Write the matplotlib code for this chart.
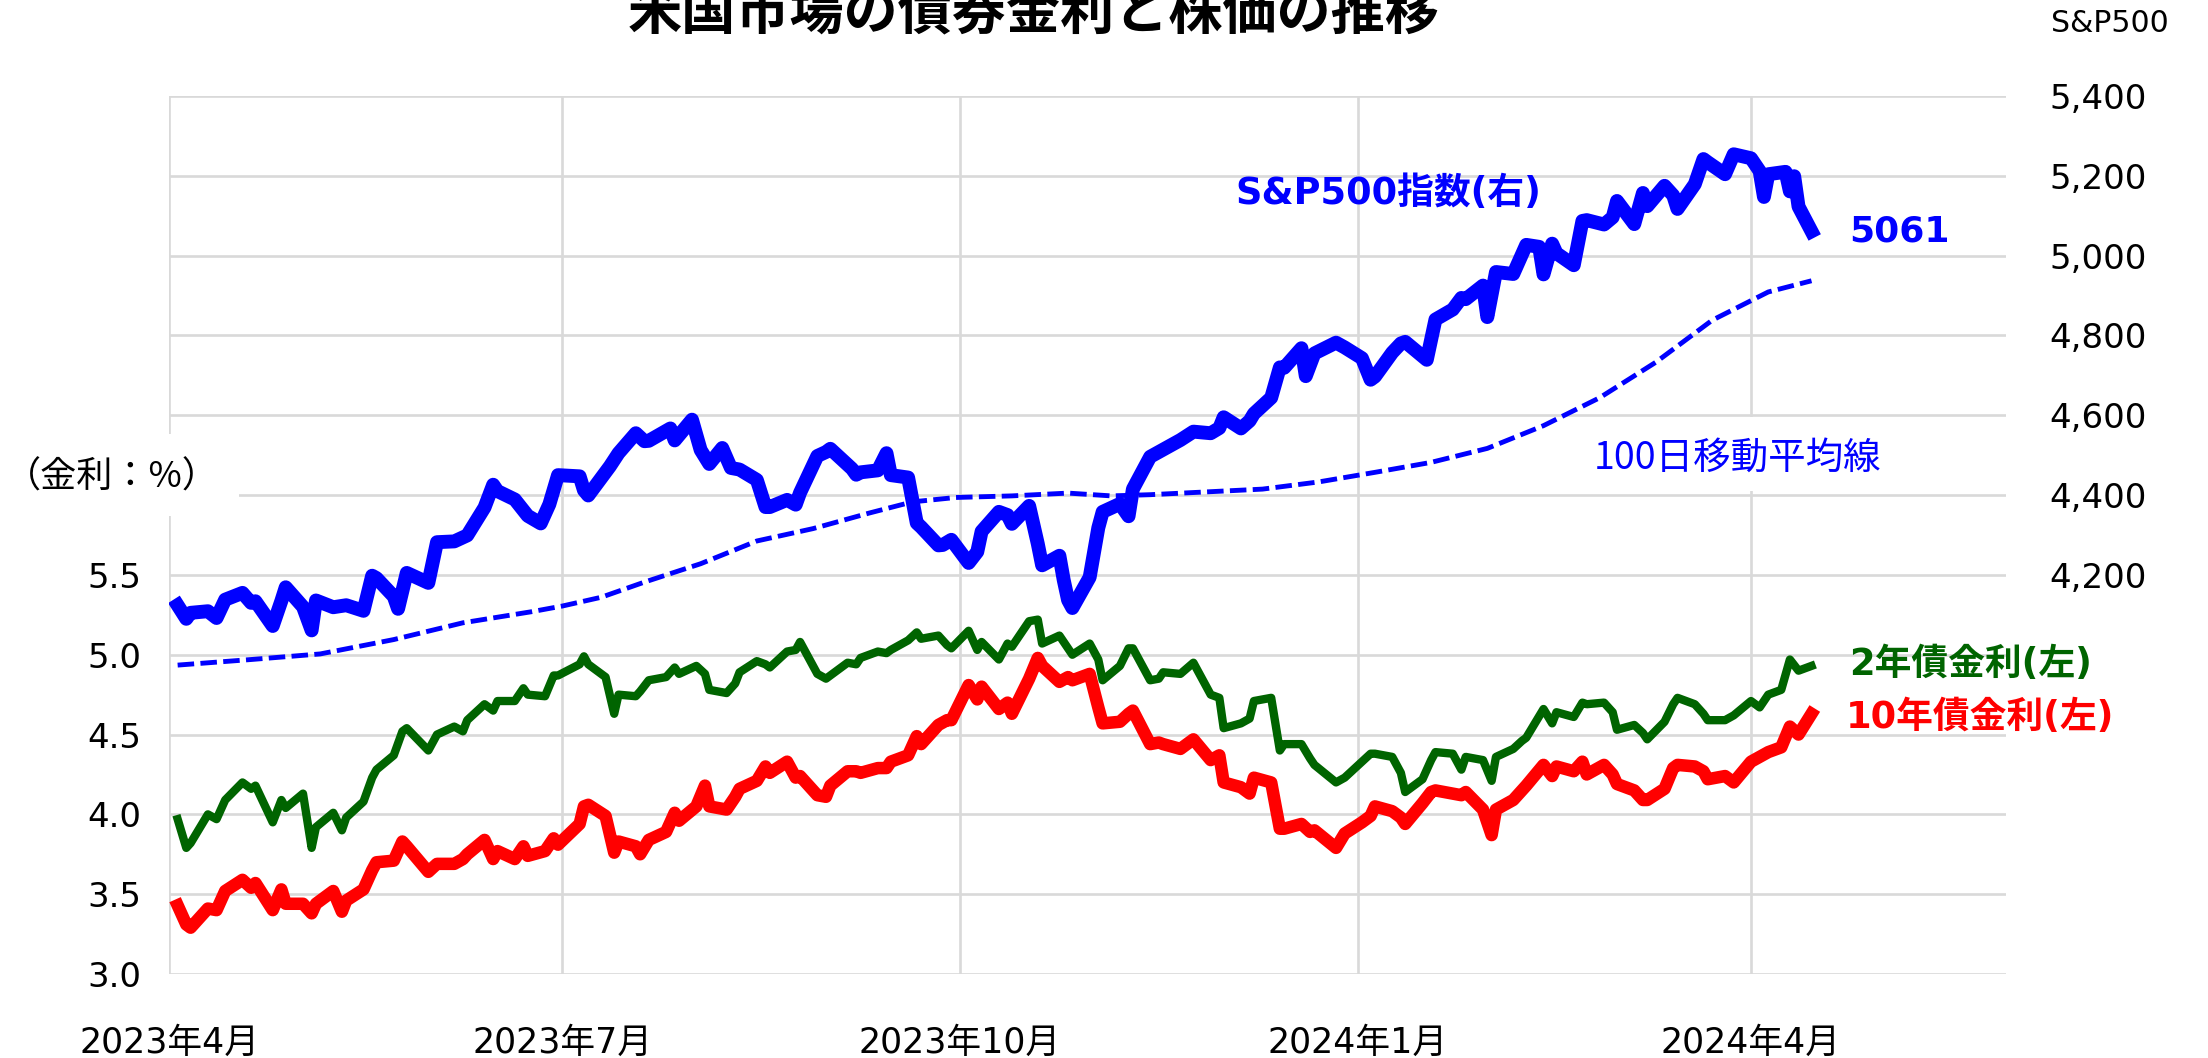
import matplotlib
matplotlib.use("Agg")
import matplotlib.pyplot as plt
import matplotlib.dates as mdates
import matplotlib.ticker as mticker
from matplotlib.patches import Rectangle
import numpy as np
import pandas as pd

plt.rcParams['font.family'] = ['DejaVu Sans', 'Noto Sans CJK JP']

# S&P500 (right axis)
sp_dates = [
    "2023-04-03", "2023-04-05", "2023-04-06", "2023-04-10", "2023-04-12", "2023-04-14",
    "2023-04-18", "2023-04-20", "2023-04-21", "2023-04-25", "2023-04-27", "2023-04-28",
    "2023-05-02", "2023-05-04", "2023-05-05", "2023-05-09", "2023-05-12", "2023-05-16",
    "2023-05-18", "2023-05-19", "2023-05-23", "2023-05-24", "2023-05-26", "2023-05-31",
    "2023-06-02", "2023-06-06", "2023-06-09", "2023-06-13", "2023-06-15", "2023-06-16",
    "2023-06-20", "2023-06-23", "2023-06-26", "2023-06-28", "2023-06-30", "2023-07-05",
    "2023-07-06", "2023-07-07", "2023-07-12", "2023-07-14", "2023-07-18", "2023-07-20",
    "2023-07-21", "2023-07-26", "2023-07-27", "2023-07-31", "2023-08-02", "2023-08-04",
    "2023-08-07", "2023-08-09", "2023-08-11", "2023-08-15", "2023-08-17", "2023-08-18",
    "2023-08-22", "2023-08-24", "2023-08-25", "2023-08-29", "2023-08-31", "2023-09-01",
    "2023-09-06", "2023-09-07", "2023-09-08", "2023-09-12", "2023-09-14", "2023-09-15",
    "2023-09-19", "2023-09-21", "2023-09-22", "2023-09-26", "2023-09-27", "2023-09-29",
    "2023-10-03", "2023-10-05", "2023-10-06", "2023-10-10", "2023-10-12", "2023-10-13",
    "2023-10-17", "2023-10-19", "2023-10-20", "2023-10-24", "2023-10-25", "2023-10-26",
    "2023-10-27", "2023-10-31", "2023-11-02", "2023-11-03", "2023-11-07", "2023-11-09",
    "2023-11-10", "2023-11-14", "2023-11-16", "2023-11-17", "2023-11-21", "2023-11-24",
    "2023-11-28", "2023-11-30", "2023-12-01", "2023-12-05", "2023-12-07", "2023-12-08",
    "2023-12-12", "2023-12-14", "2023-12-15", "2023-12-19", "2023-12-20", "2023-12-22",
    "2023-12-27", "2023-12-29", "2024-01-02", "2024-01-04", "2024-01-05", "2024-01-09",
    "2024-01-11", "2024-01-12", "2024-01-17", "2024-01-19", "2024-01-23", "2024-01-25",
    "2024-01-26", "2024-01-30", "2024-01-31", "2024-02-02", "2024-02-06", "2024-02-09",
    "2024-02-12", "2024-02-13", "2024-02-15", "2024-02-16", "2024-02-20", "2024-02-22",
    "2024-02-23", "2024-02-27", "2024-02-29", "2024-03-01", "2024-03-05", "2024-03-07",
    "2024-03-08", "2024-03-12", "2024-03-14", "2024-03-15", "2024-03-19", "2024-03-21",
    "2024-03-22", "2024-03-26", "2024-03-28", "2024-04-01", "2024-04-03", "2024-04-04",
    "2024-04-05", "2024-04-09", "2024-04-10", "2024-04-11", "2024-04-12", "2024-04-15",
]
sp500 = [
    4124, 4090, 4105, 4109, 4092, 4138, 4155, 4130, 4134, 4072, 4135, 4169,
    4120, 4061, 4136, 4119, 4124, 4110, 4198, 4192, 4146, 4115, 4205, 4180,
    4282, 4284, 4299, 4369, 4426, 4410, 4389, 4348, 4329, 4377, 4450, 4447,
    4412, 4399, 4472, 4505, 4555, 4535, 4536, 4567, 4537, 4589, 4513, 4478,
    4518, 4468, 4464, 4438, 4370, 4370, 4388, 4376, 4406, 4498, 4508, 4516,
    4466, 4451, 4457, 4462, 4505, 4450, 4444, 4330, 4320, 4274, 4275, 4288,
    4230, 4258, 4309, 4358, 4350, 4328, 4373, 4278, 4224, 4248, 4187, 4137,
    4117, 4194, 4318, 4358, 4378, 4347, 4415, 4496, 4508, 4514, 4538, 4559,
    4555, 4568, 4595, 4567, 4586, 4604, 4644, 4720, 4719, 4768, 4698, 4755,
    4782, 4770, 4743, 4689, 4697, 4757, 4780, 4784, 4739, 4840, 4865, 4894,
    4891, 4925, 4846, 4959, 4954, 5027, 5022, 4953, 5030, 5006, 4976, 5087,
    5089, 5078, 5096, 5137, 5079, 5157, 5124, 5175, 5151, 5117, 5179, 5242,
    5234, 5204, 5254, 5244, 5212, 5147, 5204, 5210, 5161, 5199, 5123, 5061,
]

# 100-day moving average
ma_dates = [
    "2023-04-03", "2023-04-20", "2023-05-06", "2023-05-23", "2023-06-08", "2023-06-24",
    "2023-07-01", "2023-07-10", "2023-07-20", "2023-08-02", "2023-08-15", "2023-08-28",
    "2023-09-10", "2023-09-20", "2023-09-30", "2023-10-13", "2023-10-26", "2023-11-05",
    "2023-11-14", "2023-11-27", "2023-12-10", "2023-12-23", "2024-01-05", "2024-01-18",
    "2024-01-31", "2024-02-13", "2024-02-26", "2024-03-10", "2024-03-23", "2024-04-05",
    "2024-04-15",
]
ma100 = [
    3974, 3988, 4002, 4038, 4080, 4108, 4122, 4144, 4182, 4228, 4285, 4316,
    4355, 4383, 4394, 4398, 4405, 4398, 4401, 4408, 4415, 4433, 4457, 4482,
    4517, 4574, 4644, 4733, 4838, 4909, 4937,
]

# US treasury yields (left axis, %)
rate_dates = [
    "2023-04-03", "2023-04-05", "2023-04-06", "2023-04-10", "2023-04-12", "2023-04-14",
    "2023-04-18", "2023-04-20", "2023-04-21", "2023-04-25", "2023-04-27", "2023-04-28",
    "2023-05-02", "2023-05-04", "2023-05-05", "2023-05-09", "2023-05-11", "2023-05-12",
    "2023-05-16", "2023-05-18", "2023-05-19", "2023-05-23", "2023-05-25", "2023-05-26",
    "2023-05-31", "2023-06-02", "2023-06-06", "2023-06-08", "2023-06-09", "2023-06-13",
    "2023-06-15", "2023-06-16", "2023-06-20", "2023-06-22", "2023-06-23", "2023-06-27",
    "2023-06-29", "2023-06-30", "2023-07-05", "2023-07-06", "2023-07-07", "2023-07-11",
    "2023-07-13", "2023-07-14", "2023-07-18", "2023-07-19", "2023-07-21", "2023-07-25",
    "2023-07-27", "2023-07-28", "2023-08-01", "2023-08-03", "2023-08-04", "2023-08-08",
    "2023-08-10", "2023-08-11", "2023-08-15", "2023-08-17", "2023-08-18", "2023-08-22",
    "2023-08-24", "2023-08-25", "2023-08-29", "2023-08-31", "2023-09-01", "2023-09-05",
    "2023-09-07", "2023-09-08", "2023-09-12", "2023-09-14", "2023-09-15", "2023-09-19",
    "2023-09-21", "2023-09-22", "2023-09-26", "2023-09-28", "2023-09-29", "2023-10-03",
    "2023-10-05", "2023-10-06", "2023-10-10", "2023-10-12", "2023-10-13", "2023-10-17",
    "2023-10-19", "2023-10-20", "2023-10-24", "2023-10-26", "2023-10-27", "2023-10-31",
    "2023-11-02", "2023-11-03", "2023-11-07", "2023-11-09", "2023-11-10", "2023-11-14",
    "2023-11-16", "2023-11-17", "2023-11-21", "2023-11-24", "2023-11-28", "2023-11-30",
    "2023-12-01", "2023-12-05", "2023-12-07", "2023-12-08", "2023-12-12", "2023-12-14",
    "2023-12-15", "2023-12-19", "2023-12-21", "2023-12-22", "2023-12-27", "2023-12-29",
    "2024-01-02", "2024-01-04", "2024-01-05", "2024-01-09", "2024-01-11", "2024-01-12",
    "2024-01-16", "2024-01-18", "2024-01-19", "2024-01-23", "2024-01-25", "2024-01-26",
    "2024-01-30", "2024-02-01", "2024-02-02", "2024-02-06", "2024-02-08", "2024-02-09",
    "2024-02-13", "2024-02-15", "2024-02-16", "2024-02-20", "2024-02-22", "2024-02-23",
    "2024-02-27", "2024-02-29", "2024-03-01", "2024-03-05", "2024-03-07", "2024-03-08",
    "2024-03-12", "2024-03-14", "2024-03-15", "2024-03-19", "2024-03-21", "2024-03-22",
    "2024-03-26", "2024-03-28", "2024-04-01", "2024-04-03", "2024-04-05", "2024-04-08",
    "2024-04-10", "2024-04-12", "2024-04-15",
]
y10 = [
    3.43, 3.31, 3.29, 3.41, 3.40, 3.52, 3.59, 3.54, 3.57, 3.40, 3.53, 3.44,
    3.44, 3.38, 3.44, 3.52, 3.39, 3.46, 3.53, 3.65, 3.70, 3.71, 3.83, 3.80,
    3.64, 3.69, 3.69, 3.72, 3.75, 3.84, 3.72, 3.77, 3.72, 3.80, 3.74, 3.77,
    3.85, 3.81, 3.94, 4.05, 4.06, 3.99, 3.76, 3.83, 3.80, 3.75, 3.84, 3.89,
    4.01, 3.96, 4.05, 4.18, 4.05, 4.03, 4.11, 4.16, 4.21, 4.30, 4.26, 4.33,
    4.23, 4.24, 4.12, 4.11, 4.18, 4.27, 4.27, 4.26, 4.29, 4.29, 4.33, 4.37,
    4.49, 4.44, 4.56, 4.59, 4.59, 4.81, 4.72, 4.80, 4.66, 4.70, 4.63, 4.85,
    4.98, 4.93, 4.83, 4.86, 4.84, 4.88, 4.67, 4.57, 4.58, 4.63, 4.65, 4.44,
    4.45, 4.44, 4.41, 4.47, 4.34, 4.37, 4.20, 4.17, 4.13, 4.23, 4.20, 3.91,
    3.91, 3.94, 3.89, 3.90, 3.79, 3.88, 3.95, 3.99, 4.05, 4.02, 3.98, 3.94,
    4.07, 4.14, 4.15, 4.13, 4.12, 4.14, 4.03, 3.87, 4.03, 4.09, 4.15, 4.18,
    4.31, 4.24, 4.30, 4.27, 4.33, 4.25, 4.31, 4.25, 4.19, 4.15, 4.09, 4.09,
    4.16, 4.29, 4.31, 4.30, 4.27, 4.22, 4.24, 4.20, 4.33, 4.36, 4.39, 4.42,
    4.55, 4.50, 4.63,
]
y2 = [
    3.97, 3.79, 3.82, 4.00, 3.97, 4.09, 4.20, 4.16, 4.18, 3.95, 4.09, 4.04,
    4.13, 3.79, 3.92, 4.01, 3.90, 3.98, 4.08, 4.23, 4.28, 4.37, 4.52, 4.54,
    4.40, 4.50, 4.55, 4.52, 4.59, 4.69, 4.65, 4.71, 4.71, 4.79, 4.75, 4.74,
    4.87, 4.87, 4.94, 4.99, 4.94, 4.86, 4.63, 4.75, 4.74, 4.77, 4.84, 4.86,
    4.92, 4.88, 4.93, 4.88, 4.78, 4.76, 4.82, 4.89, 4.96, 4.94, 4.92, 5.02,
    5.03, 5.08, 4.88, 4.85, 4.87, 4.95, 4.94, 4.98, 5.02, 5.01, 5.03, 5.09,
    5.14, 5.10, 5.12, 5.06, 5.04, 5.15, 5.03, 5.08, 4.97, 5.07, 5.05, 5.21,
    5.22, 5.07, 5.12, 5.04, 5.00, 5.07, 4.97, 4.84, 4.93, 5.04, 5.04, 4.84,
    4.85, 4.89, 4.88, 4.95, 4.75, 4.73, 4.54, 4.57, 4.60, 4.71, 4.73, 4.40,
    4.44, 4.44, 4.35, 4.31, 4.20, 4.23, 4.33, 4.38, 4.38, 4.36, 4.26, 4.14,
    4.22, 4.34, 4.39, 4.38, 4.28, 4.36, 4.34, 4.21, 4.36, 4.41, 4.46, 4.48,
    4.66, 4.57, 4.64, 4.61, 4.70, 4.69, 4.70, 4.64, 4.53, 4.56, 4.51, 4.47,
    4.58, 4.69, 4.73, 4.69, 4.63, 4.59, 4.59, 4.62, 4.71, 4.67, 4.75, 4.78,
    4.97, 4.90, 4.93,
]

sp_dates = pd.to_datetime(sp_dates)
ma_dates = pd.to_datetime(ma_dates)
rate_dates = pd.to_datetime(rate_dates)

W, H = 2208, 1058
fig = plt.figure(figsize=(W / 100, H / 100), dpi=100)


def fx(px):
    return px / W


def fy(py):
    return 1 - py / H


def white_box(x0, y0, x1, y1):
    # blank patch under a label, hides the grid behind it
    fig.patches.append(Rectangle((fx(x0), fy(y1)), fx(x1 - x0), (y1 - y0) / H,
                                 transform=fig.transFigure, fc='white',
                                 ec='none', zorder=1))


ax = fig.add_axes([fx(169), fy(974), fx(2006 - 169), (974 - 96) / H])
ax2 = ax.twinx()

grid_c = '#d9d9d9'

# rates on the left axis
ax.plot(rate_dates, y2, color='#006400', lw=6, zorder=3, solid_joinstyle='round')
ax.plot(rate_dates, y10, color='#ff0000', lw=9, zorder=3, solid_joinstyle='round')

# S&P500 and its moving average on the right axis
ax2.plot(ma_dates, ma100, color='#0000ff', lw=3.5, ls=(0, (3.4, 1.3)))
ax2.plot(sp_dates, sp500, color='#0000ff', lw=10, solid_joinstyle='round')

ax.set_xlim(pd.Timestamp("2023-04-01"), pd.Timestamp("2024-05-30"))
ax.set_ylim(3.0, 8.5)
ax2.set_ylim(3200, 5400)

ax.set_yticks(np.arange(3.0, 5.51, 0.5))
# minor ticks on the left axis sit under the right-axis levels, used for the grid
ax.set_yticks(np.arange(6.0, 8.51, 0.5), minor=True)
ax.yaxis.set_major_formatter(mticker.FormatStrFormatter('%.1f'))
ax2.set_yticks(np.arange(4200, 5401, 200))
ax2.yaxis.set_major_formatter(mticker.StrMethodFormatter('{x:,.0f}'))

ax.xaxis.set_major_locator(mdates.MonthLocator(bymonth=[1, 4, 7, 10]))
ax.xaxis.set_major_formatter(mticker.FuncFormatter(
    lambda v, pos: f"{mdates.num2date(v).year}年{mdates.num2date(v).month}月"))

ax.grid(True, which='both', axis='y', color=grid_c, lw=1.9, zorder=0)
ax.grid(True, which='major', axis='x', color=grid_c, lw=1.9, zorder=0)
ax.set_axisbelow(True)

for a in (ax, ax2):
    for s in a.spines.values():
        s.set_visible(False)
ax.tick_params(axis='y', which='both', length=0, pad=20, labelsize=24.5)
ax.tick_params(axis='x', length=0, pad=37, labelsize=25)
ax2.tick_params(axis='y', length=0, pad=31, labelsize=24.5)

# labels at series ends
ax2.annotate(f"{sp500[-1]:.0f}", (sp_dates[-1], sp500[-1]), xytext=(27, 0),
             textcoords='offset points', va='center', ha='left',
             color='#0000ff', fontsize=26, fontweight='bold')
ax.annotate("2年債金利(左)", (rate_dates[-1], y2[-1]), xytext=(27, 1),
            textcoords='offset points', va='center', ha='left',
            color='#006400', fontsize=26.5, fontweight='bold')
ax.annotate("10年債金利(左)", (rate_dates[-1], y10[-1]), xytext=(25, -3),
            textcoords='offset points', va='center', ha='left',
            color='#ff0000', fontsize=26.5, fontweight='bold')

fig.text(fx(1235), fy(193), "S&P500指数(右)", color='#0000ff', fontsize=26.5,
         fontweight='bold', va='center', ha='left')

white_box(1570, 417, 1926, 491)
fig.text(fx(1594), fy(458), "100日移動平均線", color='#0000ff', fontsize=27,
         va='center', ha='left', family=['Noto Sans CJK JP', 'DejaVu Sans'],
         zorder=5)

white_box(0, 434, 239, 516)
fig.text(fx(112), fy(478), "（金利：%）", color='black', fontsize=26,
         va='center', ha='center', family=['Noto Sans CJK JP', 'DejaVu Sans'],
         zorder=5)

fig.text(fx(2110), fy(24), "S&P500", color='black', fontsize=21.5,
         va='center', ha='center')

fig.text(fx(1034), fy(28), "米国市場の債券金利と株価の推移", fontsize=39,
         fontweight='bold', ha='center', va='baseline',
         family=['Noto Sans CJK JP', 'DejaVu Sans'])

fig.savefig("out.png", dpi=100)
